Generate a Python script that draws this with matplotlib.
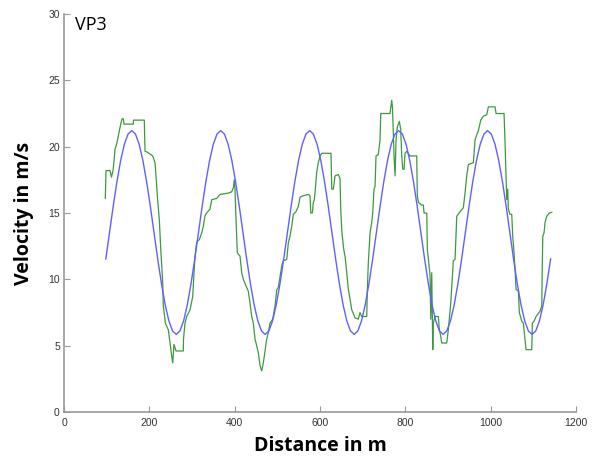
import numpy as np
import matplotlib
matplotlib.use("Agg")
import matplotlib.pyplot as plt

# ---- data ----
# fitted sine (blue), sampled every ~8.69 m
fit_x = np.linspace(98.0, 1140.5, 121)
fit_cycle = [13.53, 15.52, 17.37, 18.96, 20.18, 20.95, 21.21, 20.95, 20.18, 18.96,
             17.37, 15.52, 13.53, 11.54, 9.69, 8.10, 6.88, 6.11, 5.85, 6.11,
             6.88, 8.10, 9.69, 11.54]
fit_y = [11.54] + fit_cycle * 5

# measured velocity (green)
meas_x = [96.8, 98.4, 107.8, 111.3, 114.9, 117.2, 119.5, 123.5, 127.3, 132.9,
          136.0, 139.0, 140.6, 162.4, 162.9, 188.2, 189.9, 194.6, 207.9, 213.3,
          215.6, 218.7, 223.4, 226.7, 229.0, 231.4, 232.8, 237.5, 244.5, 248.5,
          252.5, 254.8, 257.8, 262.5, 279.6, 280.1, 283.6, 287.6, 295.3, 301.7,
          304.7, 307.1, 311.0, 317.2, 322.8, 326.5, 330.5, 334.5, 342.2, 346.2,
          357.9, 365.7, 385.1, 393.1, 396.8, 399.2, 400.8, 403.2, 406.2, 412.5,
          416.5, 420.3, 426.6, 432.0, 436.0, 440.0, 443.7, 447.7, 455.4, 459.4,
          463.4, 467.2, 471.1, 475.1, 478.9, 482.9, 489.2, 494.6, 498.6, 502.3,
          510.3, 514.0, 522.0, 525.8, 529.7, 533.7, 537.5, 543.8, 549.2, 553.2,
          560.9, 572.6, 576.6, 578.3, 582.0, 584.4, 586.7, 588.3, 592.3, 596.1,
          600.1, 604.0, 625.8, 627.5, 631.2, 635.2, 643.0, 646.9, 648.6, 650.9,
          654.7, 657.0, 658.7, 662.7, 666.4, 670.4, 674.4, 682.1, 689.8, 693.8,
          697.8, 709.5, 710.9, 713.3, 717.3, 721.2, 723.6, 726.6, 729.0, 731.3,
          736.7, 740.7, 742.4, 764.2, 765.4, 768.1, 770.0, 773.5, 775.9, 778.2,
          781.3, 786.0, 789.2, 791.6, 793.9, 797.0, 799.3, 803.3, 811.0, 826.7,
          828.1, 830.5, 838.5, 842.2, 843.9, 850.2, 851.6, 854.9, 857.9, 859.6,
          861.9, 864.3, 865.6, 869.6, 877.3, 879.7, 883.0, 885.3, 897.0, 900.8,
          906.4, 912.5, 916.5, 920.5, 928.2, 932.2, 936.0, 939.9, 943.9, 947.7,
          959.4, 963.4, 967.4, 971.1, 976.8, 982.8, 990.8, 994.6, 1010.3, 1012.6,
          1031.4, 1033.7, 1036.0, 1037.7, 1040.0, 1041.4, 1045.4, 1049.4, 1051.7, 1054.8,
          1057.1, 1059.5, 1064.9, 1067.2, 1072.9, 1076.6, 1078.2, 1082.9, 1096.3, 1097.7,
          1101.7, 1106.4, 1115.7, 1119.7, 1122.1, 1125.1, 1127.5, 1131.4, 1137.5, 1143.2]
meas_y = [16.1, 18.2, 18.2, 17.7, 18.2, 18.9, 19.8, 20.2, 20.8, 21.7,
          22.1, 22.1, 21.7, 21.7, 22.0, 22.0, 19.65, 19.6, 19.3, 18.8,
          17.8, 16.3, 14.5, 12.3, 11.0, 9.7, 8.0, 6.7, 6.2, 5.2,
          4.2, 3.7, 5.1, 4.6, 4.6, 5.5, 6.7, 7.2, 7.7, 8.7,
          10.5, 11.7, 12.8, 13.0, 13.5, 14.0, 14.8, 15.0, 15.3, 16.0,
          16.1, 16.4, 16.5, 16.6, 16.9, 17.5, 16.8, 14.5, 12.0, 11.75,
          10.5, 10.0, 9.5, 9.1, 8.2, 7.2, 6.7, 5.5, 4.5, 3.5,
          3.1, 3.7, 4.6, 5.5, 6.0, 6.7, 7.0, 8.0, 9.2, 9.4,
          11.0, 11.4, 11.5, 12.75, 13.25, 14.0, 14.9, 15.1, 15.5, 16.2,
          16.3, 16.4, 16.3, 15.0, 15.0, 15.8, 16.0, 16.5, 18.1, 18.8,
          19.3, 19.5, 19.5, 16.8, 16.8, 17.8, 17.9, 17.6, 15.3, 13.75,
          12.5, 12.0, 11.75, 10.5, 9.25, 8.5, 7.7, 7.1, 7.0, 7.5,
          7.2, 7.2, 9.2, 11.25, 13.5, 14.3, 15.0, 16.8, 17.0, 19.3,
          19.4, 20.5, 22.5, 22.5, 22.8, 23.5, 22.9, 19.3, 17.8, 20.5,
          21.5, 21.9, 21.3, 19.3, 18.3, 18.3, 19.5, 19.65, 19.3, 19.3,
          16.3, 15.8, 15.6, 15.6, 15.0, 15.0, 12.25, 11.25, 10.25, 7.0,
          10.5, 4.7, 6.7, 7.2, 7.2, 6.2, 5.7, 5.2, 5.2, 6.2,
          8.2, 11.4, 11.5, 14.75, 15.1, 15.25, 15.4, 16.5, 17.8, 18.65,
          18.8, 20.5, 20.9, 21.2, 22.0, 22.3, 22.4, 23.0, 23.0, 22.5,
          22.5, 20.3, 17.8, 16.0, 16.8, 15.3, 14.9, 14.9, 13.25, 12.0,
          10.75, 9.25, 9.1, 7.5, 6.85, 6.7, 6.2, 4.7, 4.7, 6.7,
          6.85, 7.2, 7.6, 8.0, 13.25, 13.5, 14.3, 14.75, 15.0, 15.05]

x_ticks = [0, 200, 400, 600, 800, 1000, 1200]
y_ticks = [0, 5, 10, 15, 20, 25, 30]

# ---- plot ----
fig = plt.figure(figsize=(5.95, 4.66), dpi=100)
ax = fig.add_axes([64/595, 1-412/466, 512/595, 398/466])

ax.plot(meas_x, meas_y, color='#3c9a3c', lw=0.9)
ax.plot(fit_x, fit_y, color='#6060ff', lw=1.0)

ax.set_xlim(0, 1200)
ax.set_ylim(0, 30)
ax.set_xticks(x_ticks)
ax.set_yticks(y_ticks)
for s in ['top', 'right']:
    ax.spines[s].set_visible(False)
for s in ['left', 'bottom']:
    ax.spines[s].set_color('#999999')
    ax.spines[s].set_linewidth(1.2)
ax.tick_params(direction='in', length=4, color='#999999', labelsize=7.5,
               labelcolor='#333333')
ax.tick_params(axis='x', pad=4)
ax.tick_params(axis='y', pad=3)
for lab in ax.get_xticklabels() + ax.get_yticklabels():
    lab.set_family('Liberation Sans')

ax.set_xlabel('Distance in m', fontsize=14, fontweight='bold', family='Open Sans', labelpad=6)
ax.set_ylabel('Velocity in m/s', fontsize=14, fontweight='bold', family='Open Sans', labelpad=10)
ax.text(0.021, 0.995, 'VP3', transform=ax.transAxes, fontsize=13, family='Open Sans',
        va='top', ha='left')

fig.savefig('out.png', dpi=100)
